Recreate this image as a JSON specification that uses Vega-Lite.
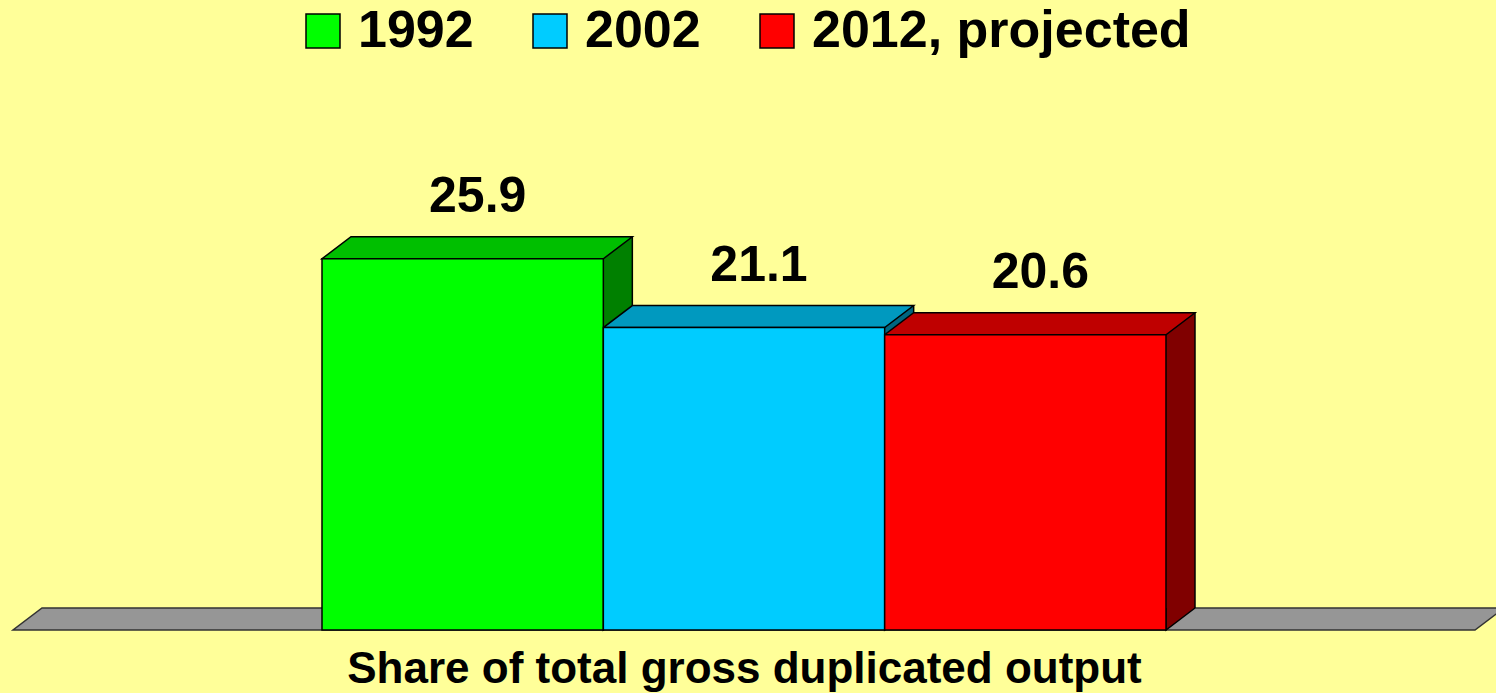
{
  "$schema": "https://vega.github.io/schema/vega-lite/v6.json",
  "background": "#FFFF99",
  "autosize": "none",
  "padding": {"left": 322, "top": 200, "right": 330, "bottom": 63},
  "width": 844,
  "height": 430,
  "data": {
    "values": [
      {"year": "1992", "value": 25.9},
      {"year": "2002", "value": 21.1},
      {"year": "2012, projected", "value": 20.6}
    ]
  },
  "resolve": {"scale": {"fill": "independent", "stroke": "independent", "color": "independent"}},
  "layer": [
    {
      "transform": [{"filter": "datum.year === '2002'"}],
      "mark": {"type": "point", "shape": "M-731,0L731,0L760,-22L-702,-22Z", "size": 4, "filled": true, "fill": "#969696", "stroke": "#333333", "strokeWidth": 1.5, "opacity": 1, "fillOpacity": 1, "strokeOpacity": 1},
      "encoding": {
        "x": {"field": "year", "type": "nominal", "title": "Share of total gross duplicated output", "scale": {"domain": ["1992", "2002", "2012, projected"], "paddingInner": 0, "paddingOuter": 0}},
        "y": {"datum": 0, "type": "quantitative", "axis": null, "scale": {"domain": [0, 30], "nice": false}}
      }
    },
    {
      "mark": {"type": "rule", "strokeWidth": 29, "strokeCap": "butt", "xOffset": 14.5, "yOffset": -22, "y2Offset": -22, "opacity": 1},
      "encoding": {
        "x": {"field": "year", "type": "nominal", "bandPosition": 1, "title": "Share of total gross duplicated output", "scale": {"domain": ["1992", "2002", "2012, projected"], "paddingInner": 0, "paddingOuter": 0}},
        "y": {"field": "value", "type": "quantitative", "axis": null, "scale": {"domain": [0, 30], "nice": false}},
        "y2": {"datum": 0},
        "stroke": {"field": "year", "type": "nominal", "legend": null, "scale": {"domain": ["1992", "2002", "2012, projected"], "range": ["#008000", "#006680", "#800000"]}}
      }
    },
    {
      "mark": {"type": "point", "shape": "M0,-22L0,0L29,-22", "size": 4, "filled": true, "stroke": "black", "strokeWidth": 1.5, "opacity": 1, "fillOpacity": 1, "strokeOpacity": 1},
      "encoding": {
        "x": {"field": "year", "type": "nominal", "bandPosition": 1, "title": "Share of total gross duplicated output", "scale": {"domain": ["1992", "2002", "2012, projected"], "paddingInner": 0, "paddingOuter": 0}},
        "y": {"datum": 0, "type": "quantitative", "axis": null, "scale": {"domain": [0, 30], "nice": false}},
        "fill": {"field": "year", "type": "nominal", "legend": null, "scale": {"domain": ["1992", "2002", "2012, projected"], "range": ["#008000", "#006680", "#800000"]}}
      }
    },
    {
      "mark": {"type": "rule", "strokeWidth": 1.5, "color": "black", "xOffset": 29, "yOffset": -22, "y2Offset": -22},
      "encoding": {
        "x": {"field": "year", "type": "nominal", "bandPosition": 1, "title": "Share of total gross duplicated output", "scale": {"domain": ["1992", "2002", "2012, projected"], "paddingInner": 0, "paddingOuter": 0}},
        "y": {"field": "value", "type": "quantitative", "axis": null, "scale": {"domain": [0, 30], "nice": false}},
        "y2": {"datum": 0}
      }
    },
    {
      "mark": {"type": "point", "shape": "M-140.67,0L140.67,0L169.67,-22L-111.67,-22Z", "size": 4, "filled": true, "stroke": "black", "strokeWidth": 1.5, "opacity": 1, "fillOpacity": 1, "strokeOpacity": 1},
      "encoding": {
        "x": {"field": "year", "type": "nominal", "title": "Share of total gross duplicated output", "scale": {"domain": ["1992", "2002", "2012, projected"], "paddingInner": 0, "paddingOuter": 0}},
        "y": {"field": "value", "type": "quantitative", "axis": null, "scale": {"domain": [0, 30], "nice": false}},
        "fill": {"field": "year", "type": "nominal", "legend": null, "scale": {"domain": ["1992", "2002", "2012, projected"], "range": ["#00BF00", "#0099BF", "#BF0000"]}}
      }
    },
    {
      "mark": {"type": "bar", "stroke": "black", "strokeWidth": 1.5, "opacity": 1},
      "encoding": {
        "x": {"field": "year", "type": "nominal", "title": "Share of total gross duplicated output", "scale": {"domain": ["1992", "2002", "2012, projected"], "paddingInner": 0, "paddingOuter": 0}},
        "y": {"field": "value", "type": "quantitative", "axis": null, "scale": {"domain": [0, 30], "nice": false}},
        "y2": {"datum": 0},
        "color": {
          "field": "year", "type": "nominal",
          "scale": {"domain": ["1992", "2002", "2012, projected"], "range": ["#00FF00", "#00CCFF", "#FF0000"]},
          "legend": {
            "title": null, "orient": "none", "legendX": -25, "legendY": -195, "direction": "horizontal", "columns": 3,
            "padding": 0, "symbolType": "square", "symbolSize": 1156, "symbolStrokeColor": "black", "symbolStrokeWidth": 1.5, "symbolOpacity": 1,
            "labelFont": "Liberation Sans", "labelFontWeight": "bold", "labelFontSize": 52, "labelColor": "black", "labelOffset": 9,
            "labelLimit": 1000, "columnPadding": 50
          }
        }
      }
    },
    {
      "mark": {"type": "text", "font": "Liberation Sans", "fontWeight": "bold", "fontSize": 50, "color": "black", "align": "center", "baseline": "alphabetic", "xOffset": 15, "yOffset": -47},
      "encoding": {
        "x": {"field": "year", "type": "nominal", "title": "Share of total gross duplicated output", "scale": {"domain": ["1992", "2002", "2012, projected"], "paddingInner": 0, "paddingOuter": 0}},
        "y": {"field": "value", "type": "quantitative", "axis": null, "scale": {"domain": [0, 30], "nice": false}},
        "text": {"field": "value", "type": "quantitative", "format": ".1f"}
      }
    }
  ],
  "config": {
    "view": {"stroke": null},
    "axisX": {
      "domain": false, "ticks": false, "labels": false, "grid": false,
      "titleFont": "Liberation Sans", "titleFontWeight": "bold", "titleFontSize": 44, "titleColor": "black",
      "titleBaseline": "alphabetic", "titleY": 52, "titleLimit": 2000
    }
  }
}
